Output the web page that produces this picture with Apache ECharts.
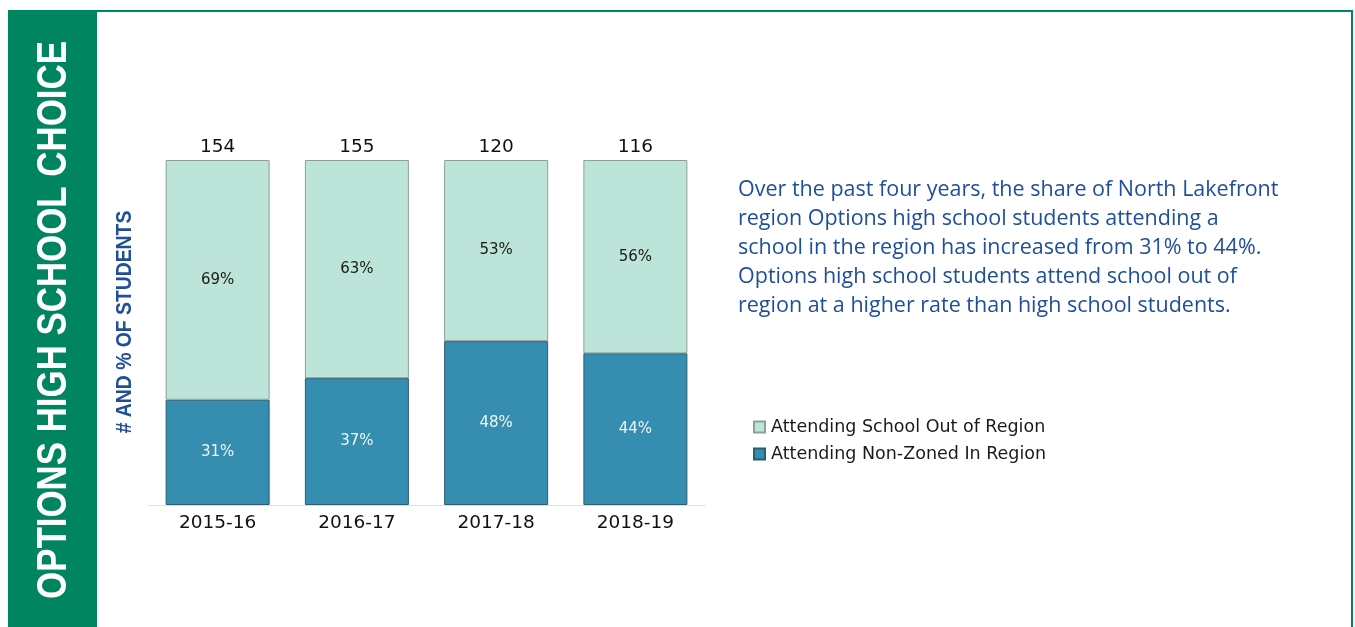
<!DOCTYPE html>
<html>
<head>
<meta charset="utf-8">
<script src="https://cdn.jsdelivr.net/npm/echarts@6/dist/echarts.min.js"></script>
<style>
  html, body { margin: 0; padding: 0; background: #fff; }
  #chart { width: 1355px; height: 627px; }
</style>
</head>
<body>
<div id="chart"></div>
<script>
// School years shown on the x axis
const years = ['2015-16', '2016-17', '2017-18', '2018-19'];
// Options high school students by where they attend (counts)
const inRegion = [47, 57, 57, 51];     // attending non-zoned school in region
const outRegion = [107, 98, 63, 65];   // attending school out of region
const seriesNames = ['Attending School Out of Region', 'Attending Non-Zoned In Region'];
const summaryLines = [
  'Over the past four years, the share of North Lakefront',
  'region Options high school students attending a',
  'school in the region has increased from 31% to 44%.',
  'Options high school students attend school out of',
  'region at a higher rate than high school students.'
];

const totals = years.map((_, i) => inRegion[i] + outRegion[i]);
const share = (arr) => arr.map((v, i) => ({ value: v * 100 / totals[i], count: v, total: totals[i] }));
const pctLabel = (p) => Math.round(p.data.count * 100 / p.data.total) + '%';

const GREEN = '#008560';
const NAVY = '#1F4E9A';
const LIGHT = '#BCE4D8';
const DARK = '#358DAF';
const labelFont = '"DejaVu Sans", "Noto Sans", sans-serif';
const headFont = '"Liberation Sans", Arial, sans-serif';

const chart = echarts.init(document.getElementById('chart'));
chart.setOption({
  animation: false,
  grid: { left: 148, right: 650, top: 160, bottom: 122 },
  xAxis: [
    {
      type: 'category', data: years, position: 'bottom',
      axisLine: { lineStyle: { color: '#e0e0e0', width: 1 } },
      axisTick: { show: false },
      axisLabel: { color: '#111', fontSize: 18.5, fontFamily: labelFont, margin: 9 }
    },
    {
      type: 'category', data: totals.map(String), position: 'top',
      axisLine: { show: false }, axisTick: { show: false },
      axisLabel: { color: '#111', fontSize: 18.5, fontFamily: labelFont, margin: 3 }
    }
  ],
  yAxis: { type: 'value', min: 0, max: 100, show: false },
  legend: {
    orient: 'vertical', left: 748, top: 413, itemGap: 9,
    itemWidth: 11, itemHeight: 11, icon: 'rect',
    data: seriesNames,
    textStyle: { color: '#1a1a1a', fontSize: 17.5, fontFamily: labelFont, padding: [0, 0, 0, 1] }
  },
  series: [
    {
      name: seriesNames[1], type: 'bar', stack: 'all', barWidth: 104, xAxisIndex: 0,
      data: share(inRegion),
      itemStyle: { color: DARK, borderColor: '#2b5d70', borderWidth: 1 },
      label: { show: true, position: 'inside', formatter: pctLabel, color: '#eef6f8', fontSize: 15, fontFamily: labelFont }
    },
    {
      name: seriesNames[0], type: 'bar', stack: 'all', barWidth: 104, xAxisIndex: 0,
      data: share(outRegion),
      itemStyle: { color: LIGHT, borderColor: '#8f9f9a', borderWidth: 1 },
      label: { show: true, position: 'inside', formatter: pctLabel, color: '#1a1a1a', fontSize: 15, fontFamily: labelFont }
    }
  ],
  graphic: [
    // frame
    { type: 'rect', shape: { x: 9, y: 11, width: 1343, height: 630 }, style: { fill: 'none', stroke: GREEN, lineWidth: 2 }, z: 10 },
    // side banner
    { type: 'rect', shape: { x: 9, y: 10, width: 88, height: 620 }, style: { fill: GREEN }, z: 11 },
    {
      type: 'text', x: 54, y: 320, rotation: Math.PI / 2, scaleX: 0.83, z: 12,
      style: {
        text: 'OPTIONS HIGH SCHOOL CHOICE', fill: '#fff',
        font: 'bold 42px ' + headFont,
        align: 'center', verticalAlign: 'middle'
      }
    },
    // value axis title
    {
      type: 'text', x: 125, y: 322, rotation: Math.PI / 2, scaleX: 0.88, z: 12,
      style: {
        text: '# AND % OF STUDENTS', fill: NAVY,
        font: 'bold 22px ' + headFont,
        align: 'center', verticalAlign: 'middle'
      }
    },
    // summary paragraph
    {
      type: 'text', left: 738, top: 175, z: 12,
      style: {
        text: summaryLines.join('\n'), fill: NAVY,
        font: '21.5px "Open Sans", "Noto Sans", sans-serif', lineHeight: 29
      }
    }
  ]
});
</script>
</body>
</html>
